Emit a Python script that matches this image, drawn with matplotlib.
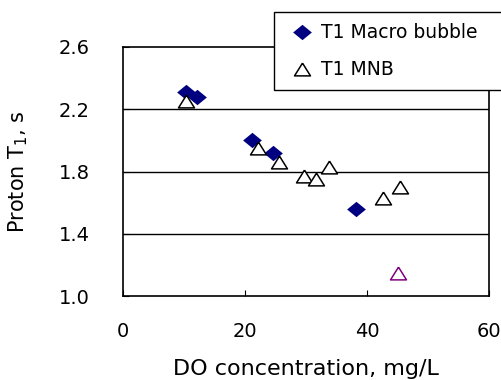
import matplotlib
matplotlib.use('Agg')
import matplotlib.pyplot as plt

# Values
macro_do = [10.3, 12.2, 21.1, 24.6, 38.2]
macro_t1 = [2.31, 2.28, 2.00, 1.92, 1.56]

mnb_do = [10.3, 22.2, 25.6, 29.6, 31.7, 33.8, 42.6, 45.4]
mnb_t1 = [2.25, 1.95, 1.86, 1.77, 1.75, 1.83, 1.63, 1.70]

outlier_do = [45.1]
outlier_t1 = [1.15]

x_ticks = [0, 20, 40, 60]
y_ticks = [1.0, 1.4, 1.8, 2.2, 2.6]

plt.rcParams['font.family'] = ['DejaVu Sans']

# Excel-like markers: slightly flattened diamond and triangle
diamond = [(-1, 0), (0, 0.82), (1, 0), (0, -0.82), (-1, 0)]
triangle = [(0, 0.8), (-1, -0.8), (1, -0.8), (0, 0.8)]

fig = plt.figure(figsize=(5.02, 3.80), dpi=100)
ax = fig.add_axes([123 / 502, 1 - 296 / 380, 366 / 502, 249 / 380])

ax.plot(macro_do, macro_t1, linestyle='none', marker=diamond, markersize=13.5,
        color='#000080', markeredgewidth=0, label='T1 Macro bubble', zorder=3)
ax.plot(mnb_do, mnb_t1, linestyle='none', marker=triangle, markersize=11.5,
        markerfacecolor='white', markeredgecolor='black', markeredgewidth=1.1,
        label='T1 MNB', zorder=4)
ax.plot(outlier_do, outlier_t1, linestyle='none', marker=triangle, markersize=11.5,
        markerfacecolor='white', markeredgecolor='#800080', markeredgewidth=1.1,
        zorder=4)

ax.set_xlim(0, 60)
ax.set_ylim(1.0, 2.6)
ax.set_xticks(x_ticks)
ax.set_yticks(y_ticks)
ax.set_yticklabels([f'{v:.1f}' for v in y_ticks])

# horizontal gridlines
for y in y_ticks[1:-1]:
    ax.axhline(y, color='black', linewidth=1.0, zorder=1)

for s in ax.spines.values():
    s.set_color('black')
    s.set_linewidth(1.2)

ax.tick_params(axis='both', direction='in', length=4, width=0.8, labelsize=14)
ax.tick_params(axis='y', pad=24)
ax.tick_params(axis='x', pad=19)

ax.set_xlabel('DO concentration, mg/L', fontsize=16, labelpad=13)
ax.set_ylabel('Proton T$_1$, s', fontsize=15)
ax.yaxis.set_label_coords(-93 / 366, 0.5)

# legend box runs off the right edge as in the original
leg = fig.legend(loc='upper left',
                 bbox_to_anchor=(274 / 502, 1 - 88 / 380, 240 / 502, 76 / 380),
                 mode='expand', fontsize=13.5, frameon=True, fancybox=False,
                 framealpha=1, edgecolor='black', borderpad=0.6,
                 labelspacing=0.95, handlelength=1.8, handletextpad=0.1,
                 borderaxespad=0, numpoints=1)
leg.get_frame().set_linewidth(1.0)

fig.savefig('out.png', dpi=100)
